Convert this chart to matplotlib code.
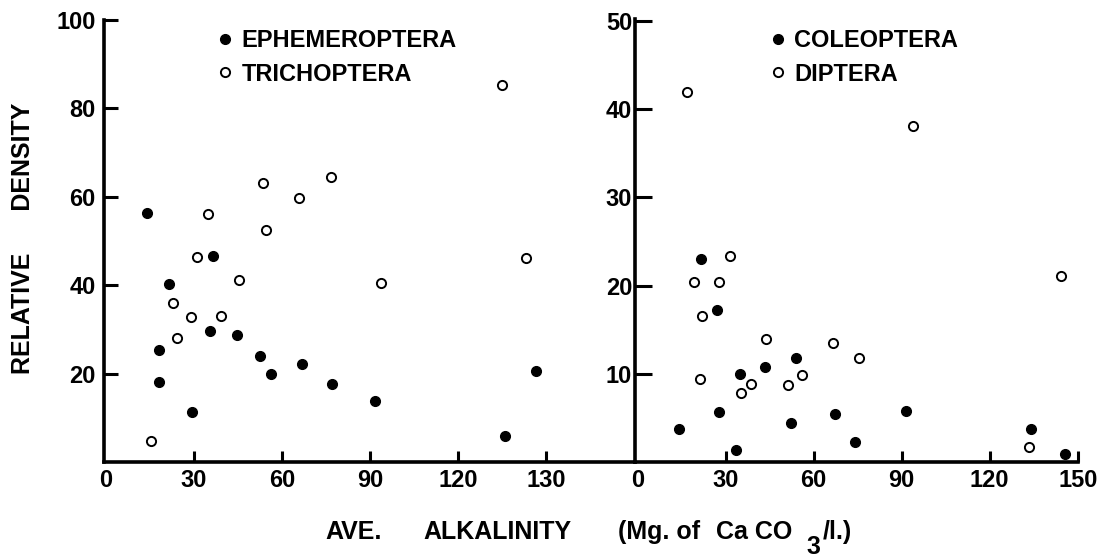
import matplotlib
matplotlib.use('Agg')
import matplotlib.pyplot as plt

# left panel: alkalinity vs relative density
eph_x = [14.0, 18.2, 18.2, 21.5, 29.2, 35.4, 36.5, 44.6, 52.6, 56.3, 66.8, 77.2, 91.7, 136.1, 146.5]
eph_y = [56.4, 25.4, 18.1, 40.2, 11.4, 29.6, 46.6, 28.8, 24.0, 19.8, 22.2, 17.6, 13.8, 5.9, 20.7]

tri_x = [15.3, 22.9, 24.3, 29.0, 30.9, 34.7, 39.2, 45.2, 53.4, 54.4, 65.9, 76.7, 93.8, 134.9, 143.1]
tri_y = [4.8, 36.0, 28.0, 32.7, 46.3, 56.2, 33.1, 41.2, 63.2, 52.5, 59.7, 64.5, 40.6, 85.3, 46.2]

# right panel
col_x = [14.1, 21.6, 27.0, 27.7, 33.6, 34.9, 43.4, 52.3, 53.9, 67.4, 74.2, 91.5, 134.0, 145.7]
col_y = [3.7, 23.0, 17.2, 5.7, 1.4, 10.0, 10.8, 4.4, 11.8, 5.4, 2.3, 5.8, 3.7, 0.9]

dip_x = [16.9, 19.1, 21.2, 21.9, 27.8, 31.6, 35.3, 38.7, 43.9, 51.4, 55.9, 66.6, 75.3, 94.0, 133.3, 144.2]
dip_y = [41.9, 20.4, 9.4, 16.6, 20.4, 23.4, 7.8, 8.8, 13.9, 8.7, 9.9, 13.5, 11.8, 38.1, 1.7, 21.1]

x_ticks = [0, 30, 60, 90, 120, 150]
left_xlabels = ['0', '30', '60', '90', '120', '130']
right_xlabels = ['0', '30', '60', '90', '120', '150']
left_yticks = [20, 40, 60, 80, 100]
right_yticks = [10, 20, 30, 40, 50]

W, H = 1108, 557


def px_axes(fig, x0, x1, y_top, y_bot):
    return fig.add_axes([x0 / W, 1 - y_bot / H, (x1 - x0) / W, (y_bot - y_top) / H])


def style(ax, ylen):
    for s in ['top', 'right']:
        ax.spines[s].set_visible(False)
    for s in ['left', 'bottom']:
        ax.spines[s].set_linewidth(2.6)
    ax.tick_params(axis='x', direction='in', length=8, width=2.2, pad=5, labelsize=17)
    ax.tick_params(axis='y', direction='in', length=ylen, width=2.2, labelsize=17)
    ax.xaxis.get_major_ticks()[0].tick1line.set_visible(False)


if __name__ == '__main__':
    plt.rcParams['font.family'] = ['Liberation Sans', 'DejaVu Sans']
    plt.rcParams['font.weight'] = 'bold'
    fig = plt.figure(figsize=(W / 100, H / 100), dpi=100)

    filled = dict(marker='o', ls='none', ms=7, mfc='black', mec='black', clip_on=False)
    hollow = dict(marker='o', ls='none', ms=6.6, mfc='white', mec='black', mew=1.4, clip_on=False)
    leg_kw = dict(frameon=False, fontsize=17, handlelength=0.5, handletextpad=0.45,
                  labelspacing=0.45, borderaxespad=0, borderpad=0, loc='upper left')

    ax1 = px_axes(fig, 104, 635, 20, 462)
    ax1.plot(eph_x, eph_y, label='EPHEMEROPTERA', **filled)
    ax1.plot(tri_x, tri_y, label='TRICHOPTERA', **hollow)
    ax1.set_xlim(-0.68, 180.4)
    ax1.set_ylim(0, 100)
    ax1.set_xticks(x_ticks, left_xlabels)
    ax1.set_yticks(left_yticks)
    style(ax1, 10)
    ax1.tick_params(axis='y', pad=6)
    ax1.legend(bbox_to_anchor=(219 / W, 1 - 29 / H), bbox_transform=fig.transFigure, **leg_kw)

    ax2 = px_axes(fig, 635, 1078, 19, 462)
    ax2.plot(col_x, col_y, label='COLEOPTERA', **filled)
    ax2.plot(dip_x, dip_y, label='DIPTERA', **hollow)
    ax2.set_xlim(-0.9, 150.1)
    ax2.set_ylim(0, 50.2)
    ax2.set_xticks(x_ticks, right_xlabels)
    ax2.set_yticks(right_yticks)
    style(ax2, 12)
    ax2.tick_params(axis='y', pad=2)
    ax2.patch.set_alpha(0)
    ax2.legend(bbox_to_anchor=(772 / W, 1 - 29 / H), bbox_transform=fig.transFigure, **leg_kw)

    fig.text(23 / W, 1 - 238 / H, 'RELATIVE      DENSITY', rotation=90, ha='center', va='center', fontsize=18)

    # x label built from pieces so the subscript sits low like the original
    yl = 1 - 532 / H
    fig.text(325 / W, yl, 'AVE.', ha='left', va='center', fontsize=18)
    fig.text(423 / W, yl, 'ALKALINITY', ha='left', va='center', fontsize=18)
    fig.text(618 / W, yl, '(Mg. of', ha='left', va='center', fontsize=18)
    fig.text(716 / W, yl, 'Ca CO', ha='left', va='center', fontsize=18)
    fig.text(806 / W, 1 - 547 / H, '3', ha='left', va='center', fontsize=18)
    fig.text(823 / W, yl, '/l.)', ha='left', va='center', fontsize=18)

    fig.savefig('out.png', dpi=100)
